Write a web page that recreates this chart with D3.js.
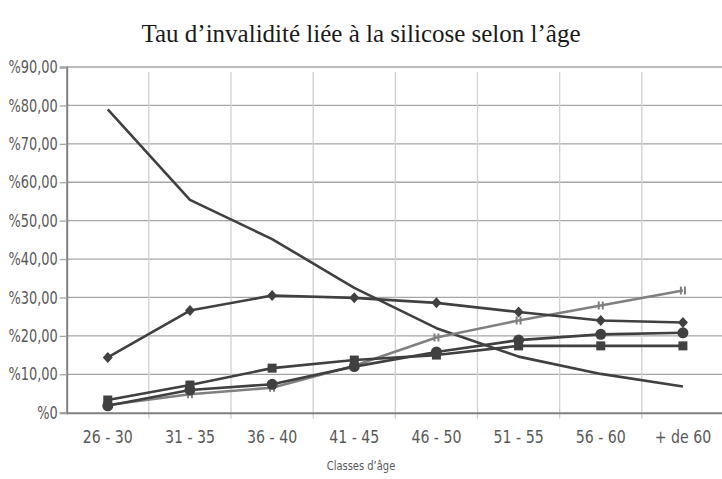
<!DOCTYPE html>
<html>
<head>
<meta charset="utf-8">
<script src="https://cdn.jsdelivr.net/npm/d3@7"></script>
<style>
  body { margin: 0; background: #fff; }
  svg { display: block; }
  .tick text { font-family: "DejaVu Sans Condensed", "Liberation Sans Narrow", sans-serif; font-stretch: condensed; fill: #595959; }
</style>
</head>
<body>
<svg id="chart" width="722" height="479"></svg>
<script>
const categories = ['26 - 30', '31 - 35', '36 - 40', '41 - 45', '46 - 50', '51 - 55', '56 - 60', '+ de 60']
const yTicks = [0, 10, 20, 30, 40, 50, 60, 70, 80, 90]

// values in %
const serieA = [79.0, 55.4, 45.2, 32.5, 22.0, 14.6, 10.1, 6.8]   // no marker
const serieB = [14.4, 26.6, 30.5, 29.9, 28.6, 26.2, 24.0, 23.5]  // diamond
const serieC = [3.3, 7.2, 11.6, 13.7, 15.0, 17.4, 17.4, 17.4]    // square
const serieD = [1.8, 5.9, 7.4, 12.0, 15.8, 18.9, 20.4, 20.8]     // circle
const serieE = [2.0, 4.8, 6.5, 12.2, 19.6, 24.0, 27.9, 31.8]     // bars

const series = [
  {values: serieA, color: '#404040', marker: 'none'},
  {values: serieE, color: '#808080', marker: 'bars'},
  {values: serieC, color: '#404040', marker: 'square'},
  {values: serieD, color: '#404040', marker: 'circle'},
  {values: serieB, color: '#404040', marker: 'diamond'}
]

const mLeft = 66.7, mRight = 724, mTop = 67, mBottom = 412.7

const svg = d3.select('#chart')

const x = d3.scaleBand().domain(categories).range([mLeft, mRight])
const y = d3.scaleLinear().domain([0, 90]).range([mBottom, mTop])

// squeeze text to mimic the narrow font of the original
function narrow(sel, k) {
  sel.each(function() {
    const w = this.getComputedTextLength()
    d3.select(this).attr('textLength', w * k).attr('lengthAdjust', 'spacingAndGlyphs')
  })
}

// horizontal grid
svg.append('g')
  .selectAll('line')
  .data(yTicks.filter(d => d > 0))
  .join('line')
  .attr('x1', mLeft).attr('x2', 722)
  .attr('y1', d => y(d)).attr('y2', d => y(d))
  .attr('stroke', '#a6a6a6').attr('stroke-width', 1.3)

// vertical grid (between categories)
svg.append('g')
  .selectAll('line')
  .data(categories.slice(1))
  .join('line')
  .attr('x1', d => x(d)).attr('x2', d => x(d))
  .attr('y1', mTop + 5).attr('y2', mBottom + 6)
  .attr('stroke', '#d0d0d0').attr('stroke-width', 1.3)

// y axis
const yAxis = svg.append('g')
  .attr('transform', `translate(${mLeft},0)`)
  .call(d3.axisLeft(y).tickValues(yTicks).tickSize(7).tickPadding(2)
    .tickFormat(d => d === 0 ? '%0' : '%' + d3.format('.2f')(d).replace('.', ',')))
yAxis.select('.domain').attr('stroke', '#808080').attr('stroke-width', 2)
yAxis.selectAll('.tick line').attr('stroke', '#a6a6a6').attr('stroke-width', 1.3)
yAxis.selectAll('.tick text').attr('font-size', 17.5).call(narrow, 0.82)

// x axis
const xAxis = svg.append('g')
  .attr('transform', `translate(0,${mBottom})`)
  .call(d3.axisBottom(x).tickSize(0).tickPadding(17))
xAxis.select('.domain').attr('stroke', '#808080').attr('stroke-width', 2)
xAxis.selectAll('.tick text').attr('font-size', 18.5).call(narrow, 0.85)

const cx = c => x(c) + x.bandwidth() / 2
const line = d3.line().x((d, i) => cx(categories[i])).y(d => y(d))

series.forEach(s => {
  svg.append('path')
    .datum(s.values)
    .attr('d', line)
    .attr('fill', 'none')
    .attr('stroke', s.color)
    .attr('stroke-width', 2.6)
    .attr('stroke-linejoin', 'round')

  const g = svg.append('g').attr('fill', s.color)
  const pts = s.values.map((v, i) => [cx(categories[i]), y(v)])
  if (s.marker === 'diamond') {
    g.selectAll('path').data(pts).join('path')
      .attr('d', d => `M${d[0]},${d[1] - 5.5}L${d[0] + 5},${d[1]}L${d[0]},${d[1] + 5.5}L${d[0] - 5},${d[1]}Z`)
  } else if (s.marker === 'square') {
    g.selectAll('rect').data(pts).join('rect')
      .attr('x', d => d[0] - 4.5).attr('y', d => d[1] - 4.5)
      .attr('width', 9).attr('height', 9)
  } else if (s.marker === 'circle') {
    g.selectAll('circle').data(pts).join('circle')
      .attr('cx', d => d[0]).attr('cy', d => d[1]).attr('r', 5.5)
  } else if (s.marker === 'bars') {
    g.selectAll('path').data(pts).join('path')
      .attr('d', d => `M${d[0] - 2},${d[1] - 4}V${d[1] + 4}M${d[0] + 2},${d[1] - 4}V${d[1] + 4}`)
      .attr('stroke', s.color).attr('stroke-width', 2).attr('fill', 'none')
  }
})

// titles
svg.append('text')
  .attr('x', 361).attr('y', 42)
  .attr('text-anchor', 'middle')
  .attr('font-family', '"Liberation Serif", "DejaVu Serif", serif')
  .attr('font-size', 25)
  .attr('fill', '#1a1a1a')
  .text('Tau d’invalidité liée à la silicose selon l’âge')

svg.append('text')
  .attr('x', 361).attr('y', 470)
  .attr('text-anchor', 'middle')
  .attr('font-family', '"DejaVu Sans Condensed", sans-serif')
  .attr('font-stretch', 'condensed')
  .attr('font-size', 13)
  .attr('fill', '#595959')
  .text('Classes d’âge')
  .call(narrow, 0.85)
</script>
</body>
</html>
